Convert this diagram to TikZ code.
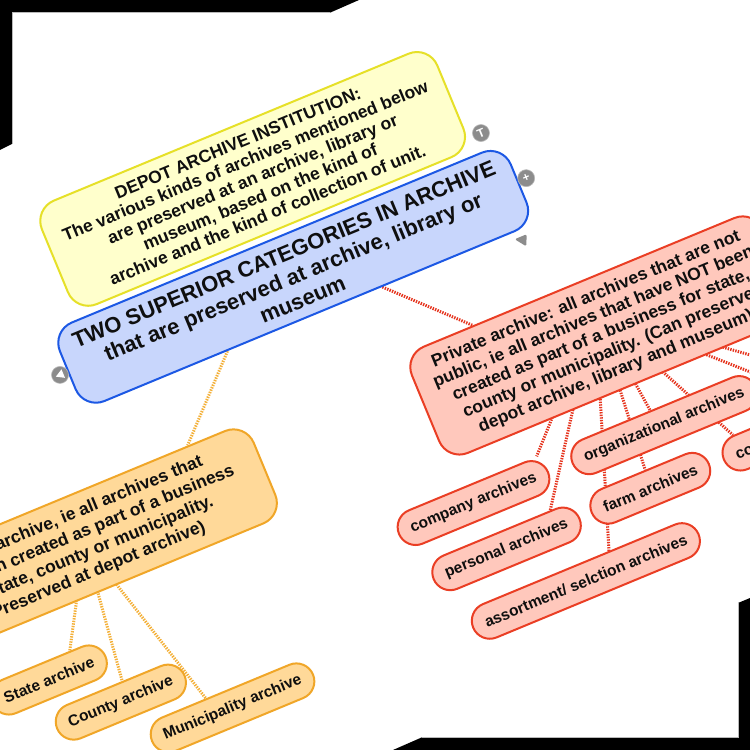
\documentclass[tikz,border=0pt]{standalone}
\usepackage{fontspec}
\setmainfont{Liberation Sans}
\usetikzlibrary{backgrounds}
\pgfdeclarelayer{paper}
\pgfsetlayers{paper,background,main}
\definecolor{depotfill}{RGB}{255,255,204}
\definecolor{depotline}{RGB}{230,224,40}
\definecolor{corefill}{RGB}{200,214,252}
\definecolor{coreline}{RGB}{28,88,228}
\definecolor{privfill}{RGB}{255,200,188}
\definecolor{privline}{RGB}{234,62,36}
\definecolor{privedge}{RGB}{230,52,30}
\definecolor{pubfill}{RGB}{255,217,153}
\definecolor{publine}{RGB}{240,166,40}
\definecolor{pubedge}{RGB}{244,176,56}
\definecolor{iconfill}{RGB}{140,140,140}
\definecolor{inktext}{RGB}{15,15,15}
\tikzstyle{topic}    = [rectangle, rounded corners=22pt, line width=2pt, align=center, text=inktext, inner sep=0pt, font=\bfseries\fontsize{17.5}{19.6}\selectfont]
\tikzstyle{leaf}     = [rectangle, rounded corners=18pt, line width=2pt, text=inktext, inner xsep=13pt, inner ysep=0pt, minimum height=36pt, font=\bfseries\fontsize{15.5}{17}\selectfont]
\tikzstyle{privleaf} = [leaf, draw=privline, fill=privfill]
\tikzstyle{publeaf}  = [leaf, draw=publine, fill=pubfill]
\tikzstyle{privlink} = [privedge, line width=3pt, dash pattern=on 1.4pt off 1.2pt]
\tikzstyle{publink}  = [pubedge, line width=3pt, dash pattern=on 1.4pt off 1.2pt]

\begin{document}
\begin{tikzpicture}[x=1pt, y=1pt,
			iconball/.style={circle, fill=iconfill, draw=gray!55, line width=0.6pt, minimum size=17pt, inner sep=0pt, text=white, font=\bfseries\fontsize{12}{12}\selectfont}]

		\useasboundingbox (0,0) rectangle (750,750);
		\clip (0,0) rectangle (750,750);
		\begin{pgfonlayer}{paper}
			\fill[white] (0,0) rectangle (750,750);
		\end{pgfonlayer}

		\begin{scope}[shift={(375,375)}, rotate=22.5, transform shape]
			\node[topic, draw=depotline, fill=depotfill, minimum width=428pt, minimum height=112pt, font=\bfseries\fontsize{17.5}{19.5}\selectfont] (depot) at (-38,228)
				{DEPOT ARCHIVE INSTITUTION:\\The various kinds of archives mentioned below\\are preserved at an archive, library or\\museum, based on the kind of\\archive and the kind of collection of unit.};
			\node[topic, draw=coreline, fill=corefill, minimum width=488pt, minimum height=85pt, font=\bfseries\fontsize{22}{24.6}\selectfont] (core) at (-38,122)
				{TWO SUPERIOR CATEGORIES IN ARCHIVE\\that are preserved at archive, library or\\museum};
			\node[topic, draw=privline, fill=privfill, minimum width=380pt, minimum height=115pt] (priv) at (224,-50)
				{Private archive: all archives that are not\\public, ie all archives that have NOT been\\created as part of a business for state,\\county or municipality. (Can preserve\\depot archive, library and museum)};
			\node[topic, draw=publine, fill=pubfill, minimum width=390pt, minimum height=100pt, font=\bfseries\fontsize{17.5}{20.5}\selectfont] (pub) at (-333,-44.4)
				{Public archive, ie all archives that\\have been created as part of a business\\for state, county or municipality.\\(Preserved at depot archive)};

			\node[publeaf] (state) at (-418,-157) {State archive};
			\node[publeaf] (county) at (-360,-205) {County archive};
			\node[publeaf] (muni) at (-259,-253) {Municipality archive};

			\node[privleaf] (company) at (42,-156) {company archives};
			\node[privleaf] (personal) at (55,-211) {personal archives};
			\node[privleaf] (assort) at (116,-271) {assortment/ selction archives};
			\node[privleaf] (farm) at (211,-210) {farm archives};
			\node[privleaf] (org) at (248,-157) {organizational archives};
			\node[privleaf] (coll) at (343.5,-211.5) {collections};

			\coordinate (privhub) at (228,-25);
			\coordinate (privfar1) at (488,-231);
			\coordinate (privfar2) at (463,-252);

			\node[iconball] (notemark) at (190.5,183) {T};
			\node[iconball] (addmark) at (215,124) {+};
			\node[iconball] (foldmark) at (-291,120.6) {};
			\fill[white] (-295.5,120.6) -- (-287.5,125.2) -- (-287.5,116) -- cycle;
			\fill[iconfill, rounded corners=1.5pt] (181,72) -- (194,72) -- (189,61) -- cycle;

			\begin{scope}[on background layer]
				\draw[publink] (core.206.6) -- (pub.21.3);
				\draw[privlink] (core.-29.9) -- (priv.153.6);
				\draw[publink] (pub.center) -- (state.32.7);
				\draw[publink] (pub.center) -- (county.64.7);
				\draw[publink] (pub.center) -- (muni.138);
				\draw[privlink] (privhub) -- (company.14.7);
				\draw[privlink] (privhub) -- (personal.19);
				\draw[privlink] (privhub) -- (assort.30.6);
				\draw[privlink] (privhub) -- (farm.83.7);
				\draw[privlink] (privhub) -- (org.111);
				\draw[privlink] (privhub) -- (coll.152.5);
				\draw[privlink] (privhub) -- (privfar1);
				\draw[privlink] (privhub) -- (privfar2);
			\end{scope}
		\end{scope}

		\fill[black] (0,750) -- (359,750) -- (330,737.3) -- (12,737.3) -- (12,606) -- (0,600) -- cycle;
		\fill[black] (750,0) -- (393,0) -- (422,12.7) -- (738,12.7) -- (738,147) -- (750,152) -- cycle;
		\draw[gray!55, line width=0.8pt] (330,737.3) -- (12,737.3) -- (12,606);
		\draw[gray!55, line width=0.8pt] (422,12.7) -- (738,12.7) -- (738,147);
	\end{tikzpicture}
\end{document}
